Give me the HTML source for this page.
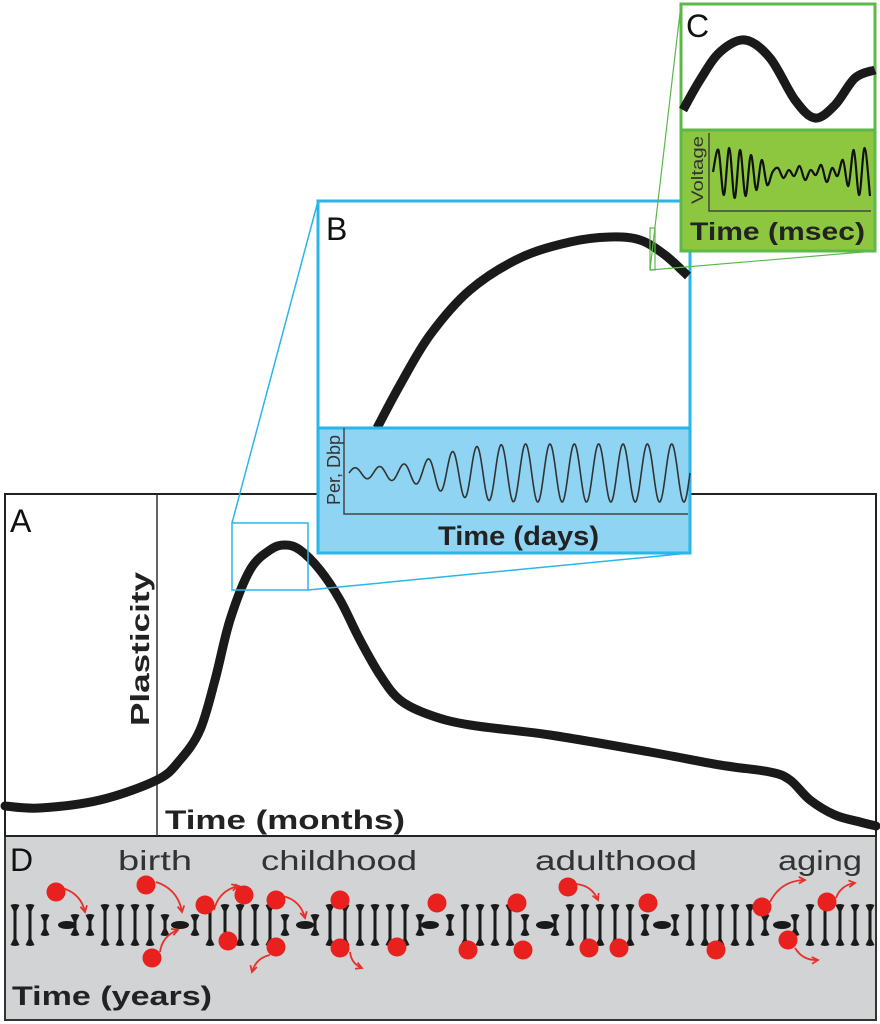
<!DOCTYPE html>
<html><head><meta charset="utf-8"><style>
html,body{margin:0;padding:0;background:#fff;}
svg{display:block;font-family:"Liberation Sans",sans-serif;}
</style></head><body>
<svg id="fig" width="880" height="1024" viewBox="0 0 880 1024" xmlns="http://www.w3.org/2000/svg">
  <rect x="5" y="836" width="871" height="184" fill="#d1d3d4" stroke="#333" stroke-width="2"/>
  <rect x="5" y="494" width="871" height="342" fill="#fff" stroke="#222" stroke-width="2"/>
  <line x1="157" y1="494" x2="157" y2="836" stroke="#333" stroke-width="1.5"/>
  <g id="curveA"></g>
  <text x="10" y="532" font-size="32" fill="#111">A</text>
  <text transform="translate(149,649) rotate(-90)" text-anchor="middle" font-size="26" font-weight="bold" fill="#222" textLength="154" lengthAdjust="spacingAndGlyphs">Plasticity</text>
  <text x="165" y="829" font-size="27" font-weight="bold" fill="#222" textLength="240" lengthAdjust="spacingAndGlyphs">Time (months)</text>
  <rect x="232" y="523" width="76" height="67" fill="none" stroke="#29b6e8" stroke-width="1.5"/>
  <line x1="232" y1="523" x2="318" y2="201" stroke="#29b6e8" stroke-width="1.5"/>
  <line x1="308" y1="590" x2="690" y2="553" stroke="#29b6e8" stroke-width="1.5"/>
  <rect x="318" y="201" width="372" height="352" fill="#fff" stroke="#29b6e8" stroke-width="3"/>
  <g id="curveB"></g>
  <rect x="318" y="428" width="372" height="125" fill="#8fd4f2" stroke="#29b6e8" stroke-width="3"/>
  <polyline points="344,428 344,514 688,514" fill="none" stroke="#444" stroke-width="1.5"/>
  <g id="waveB"></g>
  <text transform="translate(340,470) rotate(-90)" text-anchor="middle" font-size="18" fill="#333" textLength="70" lengthAdjust="spacingAndGlyphs">Per, Dbp</text>
  <text x="438" y="545" font-size="27" font-weight="bold" fill="#222" textLength="161" lengthAdjust="spacingAndGlyphs">Time (days)</text>
  <text x="326" y="240" font-size="32" fill="#111">B</text>
  <rect x="650" y="228" width="5" height="42" fill="none" stroke="#5cb848" stroke-width="1.2"/>
  <line x1="650" y1="270" x2="681" y2="4" stroke="#5cb848" stroke-width="1.2"/>
  <line x1="650" y1="270" x2="875" y2="251" stroke="#5cb848" stroke-width="1.2"/>
  <rect x="681" y="4" width="194" height="247" fill="#fff" stroke="#5cb848" stroke-width="3"/>
  <g id="curveC"></g>
  <rect x="681" y="130" width="194" height="121" fill="#8dc63f" stroke="#5cb848" stroke-width="3"/>
  <polyline points="709,133 709,211 871,211" fill="none" stroke="#444" stroke-width="1.5"/>
  <g id="waveC"></g>
  <text transform="translate(703,170) rotate(-90)" text-anchor="middle" font-size="17" fill="#333" textLength="68" lengthAdjust="spacingAndGlyphs">Voltage</text>
  <text x="690" y="240" font-size="25" font-weight="bold" fill="#222" textLength="175" lengthAdjust="spacingAndGlyphs">Time (msec)</text>
  <text x="686" y="37" font-size="32" fill="#111">C</text>
  <text x="10" y="871" font-size="32" fill="#111">D</text>
  <text x="118" y="870" font-size="28" fill="#333" textLength="74" lengthAdjust="spacingAndGlyphs">birth</text>
  <text x="261" y="870" font-size="28" fill="#333" textLength="156" lengthAdjust="spacingAndGlyphs">childhood</text>
  <text x="535" y="870" font-size="28" fill="#333" textLength="162" lengthAdjust="spacingAndGlyphs">adulthood</text>
  <text x="778" y="870" font-size="28" fill="#333" textLength="84" lengthAdjust="spacingAndGlyphs">aging</text>
  <g id="dna"></g>
  <g id="marks"></g>
  <text x="12" y="1005" font-size="27" font-weight="bold" fill="#222" textLength="200" lengthAdjust="spacingAndGlyphs">Time (years)</text>
</svg>
<script>
const curveAx=[5,40,100,157,180,200,215,230,250,270,285,300,320,340,360,380,400,430,470,550,650,720,770,790,810,835,860,876];
const curveAy=[806,808,800,780,760,730,680,620,570,550,545,550,570,600,640,675,700,715,725,735,752,765,772,780,800,815,822,826];
const curveBx=[377,400,430,470,520,570,610,640,665,688];
const curveBy=[428,385,335,290,258,242,237,240,255,276];
const curveCx=[683,700,720,745,770,795,815,835,855,875];
const curveCy=[110,80,52,40,58,100,118,105,78,70];
const waveBamp=[5,6,8,12,20,26,28,29,29,29,29,29,29,29];
const waveCy=[172,150,195,148,198,150,196,155,190,160,185,172,168,178,170,176,166,180,170,175,165,182,168,176,160,186,150,195,148,196];
const dnaNodes=[67,180,305,430,545,662,782];
const dotX=[56,146,152,205,228,244,276,276,340,340,397,437,468,517,523,568,589,619,648,716,762,788,827];
const dotY=[892,885,958,905,941,895,900,947,900,948,947,903,950,903,950,887,948,948,903,950,907,940,902];
const arrowX1=[62,156,160,214,250,283,270,350,576,770,795,836];
const arrowY1=[888,882,952,910,890,896,955,952,884,902,948,898];
const arrowX2=[85,182,178,238,236,305,252,362,598,805,818,855];
const arrowY2=[912,912,930,886,885,918,972,968,900,880,960,883];
const arrowBend=[1,1,1,1,1,1,-1,-1,1,1,-1,1];
const NS="http://www.w3.org/2000/svg";
function smooth(xs,ys){let d="M"+xs[0]+","+ys[0];for(let i=0;i<xs.length-1;i++){const x0=xs[Math.max(i-1,0)],y0=ys[Math.max(i-1,0)],x1=xs[i],y1=ys[i],x2=xs[i+1],y2=ys[i+1],x3=xs[Math.min(i+2,xs.length-1)],y3=ys[Math.min(i+2,ys.length-1)];d+=" C"+(x1+(x2-x0)/6)+","+(y1+(y2-y0)/6)+" "+(x2-(x3-x1)/6)+","+(y2-(y3-y1)/6)+" "+x2+","+y2;}return d;}
function mk(tag,attrs,parent){const e=document.createElementNS(NS,tag);for(const k in attrs)e.setAttribute(k,attrs[k]);parent.appendChild(e);return e;}
let p=mk("path",{d:smooth(curveAx,curveAy),fill:"none",stroke:"#1a1a1a","stroke-width":9,"stroke-linecap":"round"},document.getElementById("curveA"));


p=mk("path",{d:smooth(curveBx,curveBy),fill:"none",stroke:"#1a1a1a","stroke-width":9},document.getElementById("curveB"));


p=mk("path",{d:smooth(curveCx,curveCy),fill:"none",stroke:"#1a1a1a","stroke-width":9},document.getElementById("curveC"));


(function(){const x0=349,x1=690,n=waveBamp.length,per=(x1-x0)/n,cy=473;let pts=[];for(let x=x0;x<=x1;x+=0.5){const t=(x-x0)/per;const i=Math.min(Math.floor(t),n-1),j=Math.min(i+1,n-1),f=t-Math.floor(t);const a=waveBamp[i]*(1-f)+waveBamp[j]*f;pts.push(x+","+(cy-a*Math.sin(2*Math.PI*t)).toFixed(1));}
const e=mk("polyline",{points:pts.join(" "),fill:"none",stroke:"#333","stroke-width":1.6},document.getElementById("waveB"));

})();
(function(){const x0=713,x1=870,dx=(x1-x0)/(waveCy.length-1);const xs=waveCy.map((v,i)=>x0+i*dx);
const e=mk("path",{d:smooth(xs,waveCy),fill:"none",stroke:"#111","stroke-width":2.2},document.getElementById("waveC"));

})();
(function(){const g=document.getElementById("dna");const cy=925;for(let x=15;x<=872;x+=15){let dmin=1e9;dnaNodes.forEach(n=>dmin=Math.min(dmin,Math.abs(x-n)));if(dmin<8)continue;const h=dmin<25?10:20;
const b=mk("path",{d:"M"+(x-4.5)+","+(cy-h)+" Q"+x+","+(cy-h-2)+" "+(x+4.5)+","+(cy-h)+" L"+(x+1.5)+","+(cy-h+6)+" L"+(x+1.5)+","+(cy+h-6)+" L"+(x+4.5)+","+(cy+h)+" Q"+x+","+(cy+h+2)+" "+(x-4.5)+","+(cy+h)+" L"+(x-1.5)+","+(cy+h-6)+" L"+(x-1.5)+","+(cy-h+6)+"Z",fill:"#1a1a1a"},g);

}
dnaNodes.forEach(n=>{const e=mk("ellipse",{cx:n,cy:cy,rx:9,ry:4,fill:"#1a1a1a"},g);

});})();
(function(){const g=document.getElementById("marks");
arrowX1.forEach((x,i)=>{const x2=arrowX2[i],y2=arrowY2[i],y1=arrowY1[i],s=arrowBend[i];const mx=(x+x2)/2+(y2-y1)*0.3*s,my=(y1+y2)/2-(x2-x)*0.3*s;
const a=mk("path",{d:"M"+x+","+y1+" Q"+mx+","+my+" "+x2+","+y2,fill:"none",stroke:"#e8302a","stroke-width":1.8},g);


const ang=Math.atan2(y2-my,x2-mx);const h=mk("path",{d:"M"+(x2-7*Math.cos(ang-0.5))+","+(y2-7*Math.sin(ang-0.5))+" L"+x2+","+y2+" L"+(x2-7*Math.cos(ang+0.5))+","+(y2-7*Math.sin(ang+0.5)),fill:"none",stroke:"#e8302a","stroke-width":1.8},g);

});
dotX.forEach((x,i)=>{const c=mk("circle",{cx:x,cy:dotY[i],r:9.5,fill:"#e8211f"},g);

});})();
</script>
</body></html>
